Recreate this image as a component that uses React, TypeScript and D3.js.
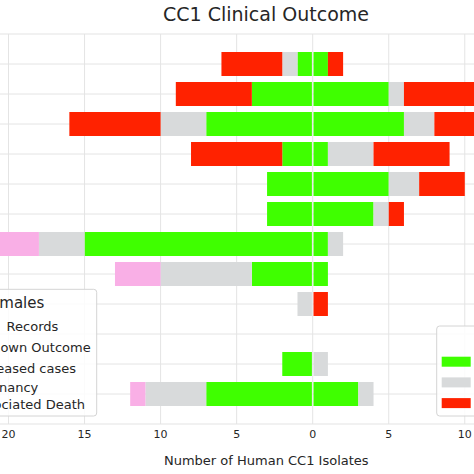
import React from "react";
import * as d3 from "d3";

// Rows (top to bottom); y-axis labels lie outside the visible crop
const categories = ["R1", "R2", "R3", "R4", "R5", "R6", "R7", "R8", "R9", "R10", "R11", "R12"];

// Females (drawn to the left of zero)
const femaleNoRecords = [1, 4, 7, 2, 3, 3, 15, 4, 0, 0, 2, 7];
const femaleUnknown = [1, 0, 3, 0, 0, 0, 3, 6, 1, 0, 0, 4];
const femaleDeceased = [4, 5, 6, 6, 0, 0, 0, 0, 0, 0, 0, 0];
const femalePregnancy = [0, 0, 0, 0, 0, 0, 3, 3, 0, 0, 0, 1];

// Males (drawn to the right of zero)
const maleNoRecords = [1, 5, 6, 1, 5, 4, 1, 1, 0, 0, 0, 3];
const maleUnknown = [0, 1, 2, 3, 2, 1, 1, 0, 0, 0, 1, 1];
const maleDeceased = [1, 6, 3, 5, 3, 1, 0, 0, 1, 0, 0, 0];

const xTicks = [-20, -15, -10, -5, 0, 5, 10, 15];
const femaleLegendLabels = ["No Records", "Unknown Outcome", "Deceased cases", "Pregnancy\nAssociated Death"];
const maleLegendLabels = ["No Records", "Unknown Outcome", "Deceased cases"];

const COLORS: Record<string, string> = {
  noRecords: "#3fff00",
  unknown: "#d8dadb",
  deceased: "#ff2200",
  pregnancy: "#f9afe6",
};

const W = 474;
const H = 474;
const FONT = "'DejaVu Sans', Verdana, sans-serif";
const TEXT = "#262626";
const GRID = "#e4e4e4";

export default function App() {
  const x = d3.scaleLinear().domain([-21.5, 11.5]).range([-14.3, 487.6]);
  const y = d3
    .scaleBand<string>()
    .domain(categories)
    .range([34, 424])
    .paddingInner(0.2)
    .paddingOuter(0.6);
  const bw = y.bandwidth();
  const [plotL, plotR] = x.range();
  const [plotT, plotB] = y.range();

  const femaleRows = categories.map((c, i) => ({
    cat: c,
    noRecords: femaleNoRecords[i],
    unknown: femaleUnknown[i],
    deceased: femaleDeceased[i],
    pregnancy: femalePregnancy[i],
  }));
  const maleRows = categories.map((c, i) => ({
    cat: c,
    noRecords: maleNoRecords[i],
    unknown: maleUnknown[i],
    deceased: maleDeceased[i],
  }));
  const femaleStack = d3
    .stack<any>()
    .keys(["noRecords", "unknown", "deceased", "pregnancy"])(femaleRows);
  const maleStack = d3.stack<any>().keys(["noRecords", "unknown", "deceased"])(maleRows);

  const gap = 0.8;
  const x0 = x(0);
  const maleKeys = ["noRecords", "unknown", "deceased"];

  // first legend label: the leading word sits just past the crop edge
  const firstWords = femaleLegendLabels[0].split(" ");

  return (
    <svg
      width={W}
      height={H}
      style={{ position: "absolute", left: 0, top: 0, background: "#fff" }}
      fontFamily={FONT}
    >
      <rect x={0} y={0} width={W} height={H} fill="#fff" />
      {/* grid */}
      {xTicks.map((t) => (
        <line key={"vx" + t} x1={x(t)} x2={x(t)} y1={plotT} y2={plotB} stroke={GRID} strokeWidth={1} />
      ))}
      {categories.map((c) => (
        <line
          key={"hy" + c}
          x1={plotL}
          x2={plotR}
          y1={(y(c) as number) + bw / 2}
          y2={(y(c) as number) + bw / 2}
          stroke={GRID}
          strokeWidth={1}
        />
      ))}
      <line x1={plotL} x2={plotR} y1={plotT} y2={plotT} stroke={GRID} strokeWidth={1.2} />
      <line x1={plotL} x2={plotR} y1={plotB} y2={plotB} stroke={GRID} strokeWidth={1.2} />

      {/* female bars (left) */}
      {femaleStack.map((s) =>
        s.map((d, i) => {
          const v0 = d[0];
          const v1 = d[1];
          if (v1 - v0 <= 0) return null;
          const xa = x(-v1);
          const xb = v0 === 0 ? x0 - gap : x(-v0);
          return (
            <rect
              key={s.key + i}
              x={xa}
              y={y(categories[i]) as number}
              width={xb - xa}
              height={bw}
              fill={COLORS[s.key]}
            />
          );
        })
      )}
      {/* male bars (right) */}
      {maleStack.map((s) =>
        s.map((d, i) => {
          const v0 = d[0];
          const v1 = d[1];
          if (v1 - v0 <= 0) return null;
          const xa = v0 === 0 ? x0 + gap : x(v0);
          const xb = x(v1);
          return (
            <rect
              key={s.key + i}
              x={xa}
              y={y(categories[i]) as number}
              width={xb - xa}
              height={bw}
              fill={COLORS[s.key]}
            />
          );
        })
      )}

      {/* tick labels */}
      {xTicks.map((t) => (
        <text key={"tl" + t} x={x(t)} y={438} textAnchor="middle" fontSize={11} fill={TEXT}>
          {Math.abs(t)}
        </text>
      ))}
      <text x={266.3} y={465} textAnchor="middle" fontSize={13} fill={TEXT}>
        Number of Human CC1 Isolates
      </text>
      <text x={266} y={20.5} textAnchor="middle" fontSize={19} fill={TEXT}>
        CC1 Clinical Outcome
      </text>

      {/* Females legend */}
      <g>
        <rect x={-70} y={289.3} width={166.7} height={126.7} rx={3} fill="#fff" fillOpacity={0.85} stroke="#d4d4d4" />
        <text x={44.3} y={308.3} textAnchor="end" fontSize={15} fill={TEXT}>
          Females
        </text>
        <rect x={-64} y={321} width={29} height={10} fill={COLORS.noRecords} />
        <text x={-1} y={330.7} textAnchor="end" fontSize={13} fill={TEXT}>
          {firstWords[0]}
        </text>
        <text x={58.3} y={330.7} textAnchor="end" fontSize={13} fill={TEXT}>
          {firstWords.slice(1).join(" ")}
        </text>
        {[
          { key: "unknown", lines: [femaleLegendLabels[1]], ys: [352.4], ends: [90.7] },
          { key: "deceased", lines: [femaleLegendLabels[2]], ys: [372.6], ends: [76] },
          {
            key: "pregnancy",
            lines: femaleLegendLabels[3].split("\n"),
            ys: [391.8, 409.3],
            ends: [38.3, 85],
          },
        ].map((e) => {
          const cy = (e.ys[0] + e.ys[e.ys.length - 1]) / 2 - 4.5;
          return (
            <g key={"fl" + e.key}>
              <rect x={-64} y={cy - 5} width={29} height={10} fill={COLORS[e.key]} />
              {e.lines.map((ln, j) => (
                <text key={j} x={e.ends[j]} y={e.ys[j]} textAnchor="end" fontSize={13} fill={TEXT}>
                  {ln}
                </text>
              ))}
            </g>
          );
        })}
      </g>

      {/* Males legend */}
      <g>
        <rect x={436.7} y={326} width={160} height={90} rx={3} fill="#fff" fillOpacity={0.85} stroke="#d4d4d4" />
        <text x={520} y={345} textAnchor="middle" fontSize={15} fill={TEXT}>
          Males
        </text>
        {maleKeys.map((k, j) => (
          <g key={"ml" + k}>
            <rect x={441.7} y={356.7 + j * 20.7} width={29} height={10} fill={COLORS[k]} />
            <text x={482} y={366 + j * 20.7} fontSize={13} fill={TEXT}>
              {maleLegendLabels[j]}
            </text>
          </g>
        ))}
      </g>
    </svg>
  );
}
